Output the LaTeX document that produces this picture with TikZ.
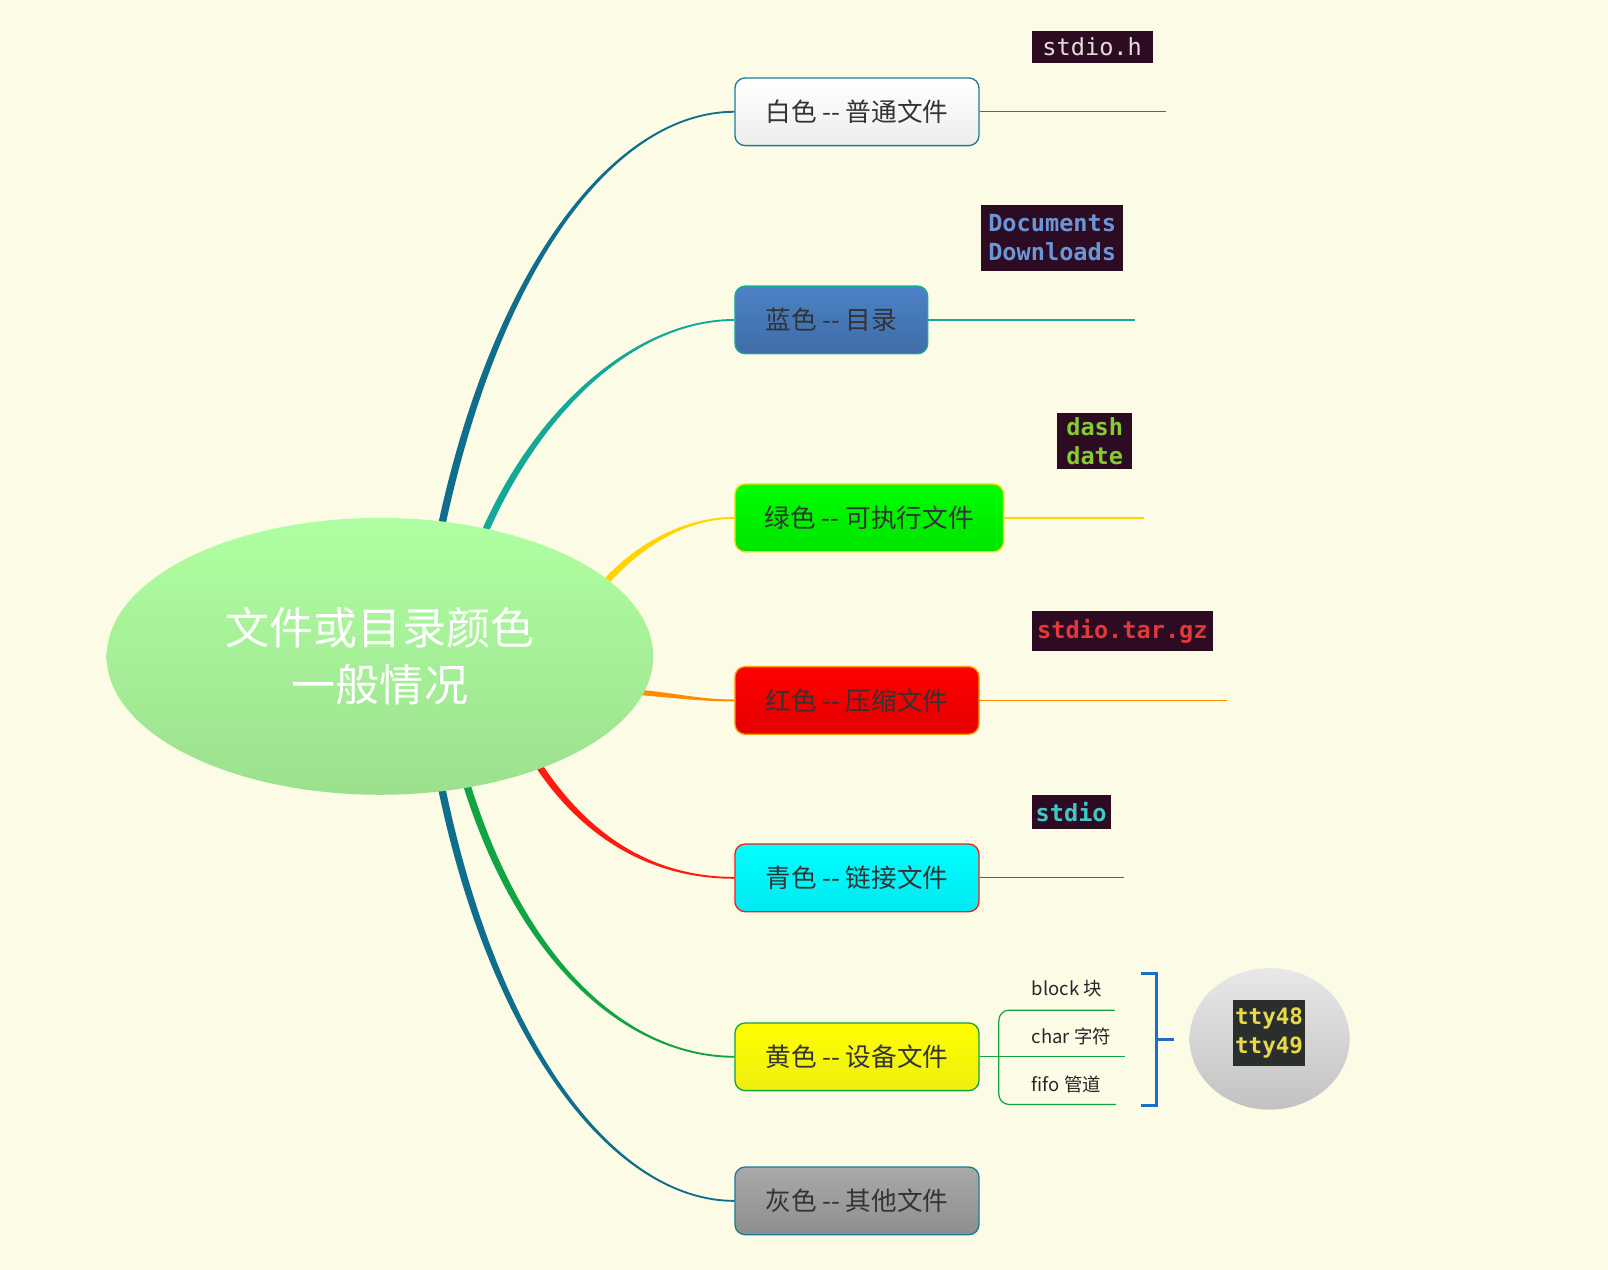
\documentclass[tikz,border=0pt]{standalone}
\usepackage{fontspec}
\newfontfamily\cjk{Noto Sans CJK SC}
\newfontfamily\tmono{DejaVu Sans Mono}
\usetikzlibrary{calc,shapes.geometric}
\definecolor{bgc}{HTML}{FCFBE6}
\definecolor{txt}{HTML}{333333}
\definecolor{termbg}{HTML}{2D0B22}
\definecolor{cteal}{HTML}{0E6E8C}
\definecolor{bteal}{HTML}{1C7C98}
\definecolor{cgreenteal}{HTML}{14A898}
\definecolor{bgreenteal}{HTML}{18A99A}
\definecolor{cyel}{HTML}{FFD400}
\definecolor{byel}{HTML}{FFD700}
\definecolor{corange}{HTML}{FF8C00}
\definecolor{borange}{HTML}{FF9A00}
\definecolor{cred}{HTML}{FF1A10}
\definecolor{bred}{HTML}{FF1A1A}
\definecolor{cgreen}{HTML}{10A444}
\definecolor{cblue}{HTML}{1A6EC8}
\definecolor{elltop}{HTML}{B0FFA2}
\definecolor{ellbot}{HTML}{9CE08E}
\definecolor{wbot}{HTML}{EDEDED}
\definecolor{bltop}{HTML}{4C82C6}
\definecolor{blbot}{HTML}{3E6CA8}
\definecolor{grtop}{HTML}{00FF00}
\definecolor{grbot}{HTML}{00E400}
\definecolor{rdtop}{HTML}{FF0000}
\definecolor{rdbot}{HTML}{E40000}
\definecolor{cytop}{HTML}{00FFFF}
\definecolor{cybot}{HTML}{00EAF0}
\definecolor{yltop}{HTML}{FFFF00}
\definecolor{ylbot}{HTML}{EEEE10}
\definecolor{gytop}{HTML}{A9A9A9}
\definecolor{gybot}{HTML}{8E8E8E}
\definecolor{sctop}{HTML}{E8E8E8}
\definecolor{scbot}{HTML}{C2C2C2}
\definecolor{tgrey}{HTML}{E2DEDA}
\definecolor{tblue}{HTML}{6A96D8}
\definecolor{tgreen}{HTML}{84CC30}
\definecolor{tred}{HTML}{E23838}
\definecolor{tcyan}{HTML}{40C8C8}
\definecolor{tyel}{HTML}{E8D84A}
\definecolor{ttybg}{HTML}{2A2E2C}
\definecolor{dlbl}{HTML}{262626}
\pgfdeclarelayer{bg}
\pgfsetlayers{bg,main}
\newcommand\mmbranch[7]{%
  \coordinate (bp0) at (#2);
  \coordinate (bc1) at (#3);
  \coordinate (bc2) at (#4);
  \coordinate (bp1) at (#5);
  \coordinate (bp0l) at ($(bp0)!#6!90:(bc1)$);
  \coordinate (bp0r) at ($(bp0)!#6!-90:(bc1)$);
  \coordinate (bp1l) at ($(bp1)!#7!-90:(bc2)$);
  \coordinate (bp1r) at ($(bp1)!#7!90:(bc2)$);
  \coordinate (bc1l) at ($(bc1)+(bp0l)-(bp0)$);
  \coordinate (bc1r) at ($(bc1)+(bp0r)-(bp0)$);
  \coordinate (bc2l) at ($(bc2)+(bp1l)-(bp1)$);
  \coordinate (bc2r) at ($(bc2)+(bp1r)-(bp1)$);
  \fill[#1] (bp0l) .. controls (bc1l) and (bc2l) .. (bp1l) -- (bp1r)
     .. controls (bc2r) and (bc1r) .. (bp0r) -- cycle;
}
\tikzset{
  mmbox/.style={draw, line width=1.3pt, rounded corners=10pt, minimum height=66pt,
    inner sep=0pt, anchor=west, text=txt, font=\cjk\fontsize{25}{30}\selectfont},
  term/.style={fill=termbg, inner sep=0pt, align=left,
    font=\tmono\bfseries\fontsize{23}{28}\selectfont},
  leaf/.style={line width=1.2pt},
  devlbl/.style={anchor=west, inner sep=0pt, text=dlbl, font=\cjk\fontsize{18}{22}\selectfont},
}
\begin{document}
\begin{tikzpicture}[x=1pt,y=-1pt]
\useasboundingbox (0,0) rectangle (1568,1238);

% central topic
\node[ellipse, inner sep=0pt, minimum width=533pt, minimum height=270pt,
      top color=elltop, bottom color=ellbot, text=white, align=center,
      font=\cjk\fontsize{43}{56}\selectfont] (c) at (370.5,640) {文件或目录颜色\\一般情况};

% branch boxes
\node[mmbox, draw=bteal, top color=white, bottom color=wbot, minimum width=238pt] (b1) at (716,109) {白色 -{}- 普通文件};
\node[mmbox, draw=bgreenteal, top color=bltop, bottom color=blbot, minimum width=188pt] (b2) at (716,312) {蓝色 -{}- 目录};
\node[mmbox, draw=byel, top color=grtop, bottom color=grbot, minimum width=262pt] (b3) at (716,505) {绿色 -{}- 可执行文件};
\node[mmbox, draw=borange, top color=rdtop, bottom color=rdbot, minimum width=238pt] (b4) at (716,683) {红色 -{}- 压缩文件};
\node[mmbox, draw=bred, top color=cytop, bottom color=cybot, minimum width=238pt] (b5) at (716,856) {青色 -{}- 链接文件};
\node[mmbox, draw=cgreen, top color=yltop, bottom color=ylbot, minimum width=238pt] (b6) at (716,1030.5) {黄色 -{}- 设备文件};
\node[mmbox, draw=bteal, top color=gytop, bottom color=gybot, minimum width=238pt] (b7) at (716,1171) {灰色 -{}- 其他文件};

% branch start points inside the central ellipse
\coordinate (s1) at (426,535);
\coordinate (s2) at (466,535);
\coordinate (s3) at (580,580);
\coordinate (s4) at (610,674);
\coordinate (s5) at (518,735);
\coordinate (s6) at (452,755);
\coordinate (s7) at (428,755);

\begin{pgfonlayer}{bg}
\fill[bgc] (0,0) rectangle (1568,1238);
\mmbranch{cteal}{s1}{480,260}{600,109}{b1.west}{3.6pt}{0.9pt}
\mmbranch{cgreenteal}{s2}{520,400}{620,312}{b2.west}{3.4pt}{0.9pt}
\mmbranch{cyel}{s3}{620,530}{670,505}{b3.west}{3.2pt}{0.9pt}
\mmbranch{corange}{s4}{660,678}{680,683}{b4.west}{2.6pt}{0.9pt}
\mmbranch{cred}{s5}{570,820}{640,856}{b5.west}{3.4pt}{0.9pt}
\mmbranch{cgreen}{s6}{510,950}{620,1030.5}{b6.west}{3.6pt}{0.9pt}
\mmbranch{cteal}{s7}{480,1020}{600,1171}{b7.west}{3.6pt}{0.9pt}
\end{pgfonlayer}

% leaf lines
\coordinate (e1) at (1137,109);
\coordinate (e2) at (1107,312);
\coordinate (e3) at (1116,505);
\coordinate (e4) at (1196,683);
\coordinate (e5) at (1096,856);
\draw[leaf, bteal] (b1.east) -- (e1);
\draw[leaf, bgreenteal] (b2.east) -- (e2);
\draw[leaf, byel] (b3.east) -- (e3);
\draw[leaf, corange] (b4.east) -- (e4);
\draw[leaf, cred] (b5.east) -- (e5);

% terminal snippets
\node[term, minimum width=118pt, minimum height=31pt, text=tgrey, font=\tmono\fontsize{23}{28}\selectfont] (t1) at (1065,45.5) {stdio.h};
\node[term, minimum width=138pt, minimum height=64pt, text=tblue] (t2) at (1026,232) {Documents\\Downloads};
\node[term, minimum width=73pt, minimum height=54pt, text=tgreen] (t3) at (1067.5,430) {dash\\date};
\node[term, minimum width=177pt, minimum height=39pt, text=tred] (t4) at (1094.5,615.5) {stdio.tar.gz};
\node[term, minimum width=77pt, minimum height=33pt, text=tcyan] (t5) at (1044.5,791.5) {stdio};

% device file sub-branches
\coordinate (d1) at (1087,985);
\coordinate (d2) at (1097,1030.5);
\coordinate (d3) at (1088,1077);
\draw[leaf, cgreen] (b6.east) -- (d2);
\draw[leaf, cgreen, rounded corners=10pt] (d1) -- (974,985) -- (974,1077) -- (d3);
\node[devlbl] (l1) at (1006,964) {block 块};
\node[devlbl] (l2) at (1006,1011) {char 字符};
\node[devlbl] (l3) at (1006,1057) {fifo 管道};

% summary bracket
\coordinate (k1) at (1113,949);
\coordinate (k2) at (1113,1078);
\coordinate (km) at (1145,1013.5);
\draw[cblue, line width=2.6pt] (k1) -- (1128,949) -- (1128,1078) -- (k2);
\draw[cblue, line width=2.6pt] (1128,1013.5) -- (km);

% summary circle with terminal image
\node[ellipse, inner sep=0pt, minimum width=156pt, minimum height=138pt,
      top color=sctop, bottom color=scbot] (sum) at (1238,1013) {};
\node[term, fill=ttybg, minimum width=71pt, minimum height=64pt, text=tyel,
      font=\tmono\bfseries\fontsize{22}{28}\selectfont] (t6) at (1237.5,1007) {tty48\\tty49};
\end{tikzpicture}
\end{document}
